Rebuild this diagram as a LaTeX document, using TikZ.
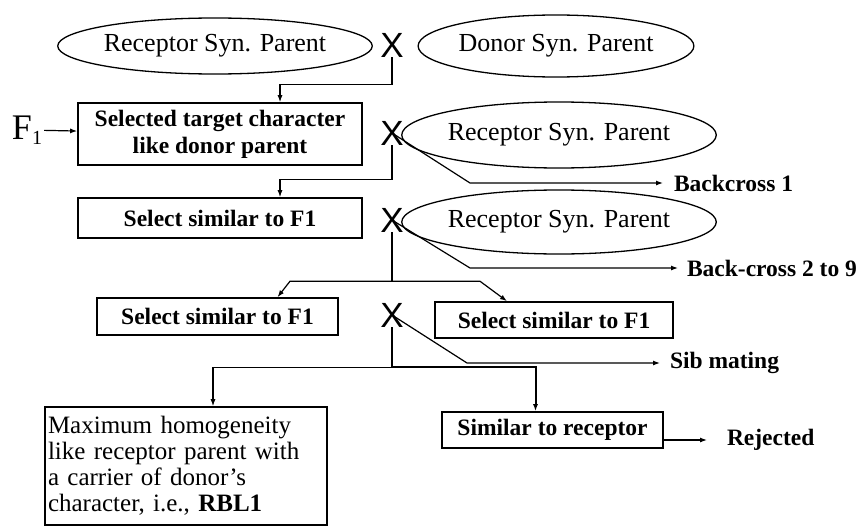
\documentclass[tikz,border=0pt]{standalone}
\usepackage{fontspec}
\setmainfont{Liberation Serif}
\newfontfamily\crossfont{Liberation Sans}
\usetikzlibrary{shapes, arrows.meta}

\tikzset{
  parent/.style={draw, ellipse, line width=1.3pt, inner sep=0pt, font=\fontsize{26}{28}\selectfont},
  stepbox/.style={draw, rectangle, line width=1.6pt, inner sep=3pt, font=\fontsize{23.5}{27}\selectfont\bfseries, align=center},
  cross/.style={inner sep=0pt, font=\crossfont\fontsize{35}{40}\selectfont},
  lbl/.style={anchor=west, inner sep=0pt, outer sep=11pt, font=\fontsize{23.5}{27}\selectfont\bfseries},
  arr/.style={-{Latex[length=7pt,width=5pt]}, line width=1.2pt},
  link/.style={line width=1.2pt}
}

\begin{document}
\begin{tikzpicture}[x=1pt, y=-1pt]
  \useasboundingbox (0,0) rectangle (858,527);

  % parents of the first cross
  \node[parent, minimum width=234pt, minimum height=56pt] (rec1) at (215,46) {Receptor Syn. Parent};
  \node[cross] (x1) at (392,45) {X};
  \node[parent, minimum width=210pt, minimum height=62pt] (don) at (556,46) {Donor Syn. Parent};

  % F1 and backcrosses
  \node[inner sep=2pt, font=\fontsize{36}{40}\selectfont] (f1) at (27,130) {F\raisebox{-5pt}{\fontsize{20}{20}\selectfont 1}};
  \node[stepbox, minimum width=284pt, minimum height=62pt] (sel1) at (220,134) {Selected target character\\like donor parent};
  \node[cross] (x2) at (392,133) {X};
  \node[parent, minimum width=232pt, minimum height=66pt] (rec2) at (559,135) {Receptor Syn. Parent};
  \node[lbl] (bc1) at (663,183) {Backcross 1};

  \node[stepbox, minimum width=284pt, minimum height=40pt] (sel2) at (220,218) {Select similar to F1};
  \node[cross] (x3) at (392,220) {X};
  \node[parent, minimum width=232pt, minimum height=64pt] (rec3) at (559,222) {Receptor Syn. Parent};
  \node[lbl, outer sep=9pt] (bc2) at (678,268) {Back-cross 2 to 9};

  % sib mating
  \node[stepbox, minimum width=241pt, minimum height=37pt] (sel3) at (217.5,316.5) {Select similar to F1};
  \node[cross] (x4) at (392,315) {X};
  \node[stepbox, minimum width=238pt, minimum height=36pt] (sel4) at (554,320) {Select similar to F1};
  \node[lbl, outer sep=10pt] (sib) at (660,363) {Sib mating};

  % outcome
  \node[draw, line width=1.6pt, inner xsep=3pt, align=left, text width=276pt,
        minimum height=118pt, font=\fontsize{25}{26}\selectfont] (maxbox) at (186,466)
        {Maximum homogeneity\\like receptor parent with\\a carrier of donor's\\character, i.e., \textbf{RBL1}};
  \node[stepbox, minimum width=221pt, minimum height=36pt] (simrec) at (552.5,430) {Similar to receptor};
  \node[lbl, outer sep=20pt] (rej) at (707,440) {Rejected};

  % connectors
  \draw[arr] (x1.south) -- ++(0,27) -| ([xshift=60pt]sel1.north);
  \draw[arr] (f1) -- (sel1);

  \draw[arr] (x2.center) -- ++(78,50) -- (bc1.west);
  \draw[arr] (x2.south) -- ++(0,34) -| ([xshift=60pt]sel2.north);

  \draw[arr] (x3.center) -- ++(78,48) -- (bc2.west);
  \draw[link] (x3.south) -- ++(0,49) coordinate (split1);
  \draw[arr] (split1) -- ++(-102,0) -- ([xshift=60pt]sel3.north);
  \draw[arr] (split1) -- ++(88,0) -- ([xshift=-47pt]sel4.north);

  \draw[arr] (x4.center) -- ++(75,48) -- (sib.west);
  \draw[link] (x4.south) -- ++(0,40) coordinate (split2);
  \draw[arr] (split2) -| ([xshift=27pt]maxbox.north);
  \draw[arr, line width=2pt] (split2) -| ([xshift=-17pt]simrec.north);

  \draw[arr] ([yshift=-10pt]simrec.east) -- (rej.west);
\end{tikzpicture}
\end{document}
